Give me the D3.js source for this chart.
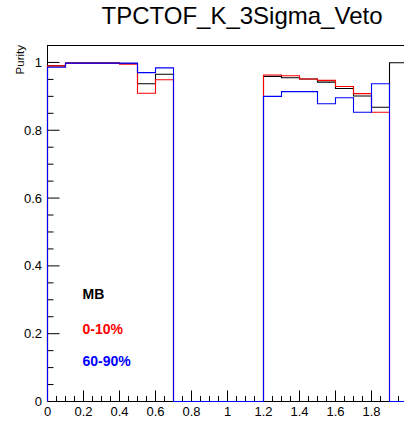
<!DOCTYPE html>
<html><head><meta charset="utf-8">
<script src="https://cdn.jsdelivr.net/npm/d3@7"></script>
<style>body{margin:0;background:#fff}svg{display:block;font-family:"Liberation Sans",Arial,sans-serif}</style>
</head><body><div id="chart"></div>
<script>
const title = "TPCTOF_K_3Sigma_Veto";
const yTitle = "Purity";
const binEdges = [0,0.1,0.2,0.3,0.4,0.5,0.6,0.7,0.8,0.9,1.0,1.1,1.2,1.3,1.4,1.5,1.6,1.7,1.8,1.9,2.0];
const mbValues   = [0.990,0.998,0.998,0.998,0.997,0.937,0.965,0,0,0,0,0,0.959,0.955,0.951,0.942,0.923,0.901,0.868,0.999];
const c010Values = [0.990,0.998,0.998,0.998,0.995,0.909,0.949,0,0,0,0,0,0.963,0.961,0.951,0.947,0.929,0.908,0.853,0];
const c6090Values= [0.986,0.998,0.998,0.998,0.998,0.970,0.984,0,0,0,0,0,0.900,0.914,0.914,0.878,0.896,0.853,0.937,0];
const legendLabels = ["MB","0-10%","60-90%"];
const seriesColors = ["#000000","#ff0000","#0000ff"];
const xTickLabels = ["0","0.2","0.4","0.6","0.8","1","1.2","1.4","1.6","1.8","2"];
const yTickLabels = ["0","0.2","0.4","0.6","0.8","1"];

const W = 404, H = 421;
const svg = d3.select("#chart").append("svg").attr("width", W).attr("height", H);
const x = d3.scaleLinear().domain([0, 2]).range([47.5, 407.5]);
const y = d3.scaleLinear().domain([0, 1.05]).range([401.5, 45.5]);

// frame
svg.append("rect").attr("x", x(0)).attr("y", y(1.05)).attr("width", x(2)-x(0)).attr("height", y(0)-y(1.05))
  .attr("fill", "none").attr("stroke", "#000").attr("stroke-width", 1);

// ticks
const g = svg.append("g").attr("stroke", "#000").attr("stroke-width", 1);
const xMinor = d3.range(0, 41).map(i => i*0.05);
xMinor.forEach((v, i) => {
  const major = i % 4 === 0;
  const len = major ? 11 : 5.5;
  g.append("line").attr("x1", x(v)).attr("x2", x(v)).attr("y1", y(0)).attr("y2", y(0)-len);
});
const yMinor = d3.range(0, 22).map(i => i*0.05);
yMinor.forEach((v, i) => {
  const major = i % 4 === 0;
  const len = major ? 12 : 6;
  g.append("line").attr("x1", x(0)).attr("x2", x(0)+len).attr("y1", y(v)).attr("y2", y(v));
});

// tick labels
xTickLabels.forEach(t => {
  svg.append("text").attr("x", x(+t)).attr("y", 416).attr("text-anchor", "middle")
    .attr("font-size", 13).attr("fill", "#000").text(t);
});
yTickLabels.forEach(t => {
  svg.append("text").attr("x", 42).attr("y", y(+t)+4.5).attr("text-anchor", "end")
    .attr("font-size", 13).attr("fill", "#000").text(t);
});

// histograms
function histPoints(vals) {
  const pts = [[binEdges[0], 0]];
  vals.forEach((v, i) => { pts.push([binEdges[i], v]); pts.push([binEdges[i+1], v]); });
  pts.push([binEdges[binEdges.length-1], 0]);
  return pts;
}
const line = d3.line().x(d => x(d[0])).y(d => y(d[1]));
[mbValues, c010Values, c6090Values].forEach((vals, k) => {
  svg.append("path").attr("d", line(histPoints(vals))).attr("fill", "none")
    .attr("stroke", seriesColors[k]).attr("stroke-width", 1.1);
});

// title
svg.append("text").attr("x", 242).attr("y", 24).attr("text-anchor", "middle")
  .attr("font-size", 24).attr("fill", "#000").text(title);
// y axis title
svg.append("text").attr("transform", "translate(23.5,45) rotate(-90)").attr("text-anchor", "end")
  .attr("font-size", 11.5).attr("fill", "#000").text(yTitle);

// legend texts
const legY = [299, 334, 366];
legendLabels.forEach((l, i) => {
  svg.append("text").attr("x", 82.5).attr("y", legY[i]).attr("font-size", 14).attr("font-weight", "bold")
    .attr("fill", seriesColors[i]).text(l);
});
</script></body></html>
